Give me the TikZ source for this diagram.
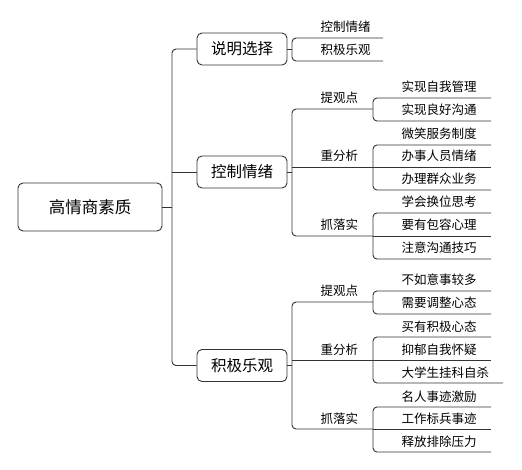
\documentclass[tikz,border=0pt]{standalone}
\usepackage{fontspec}
\setmainfont{Noto Sans CJK SC}
\definecolor{lc}{HTML}{333333}
\newcommand\mmleaf[5]{%
  \coordinate (#1s) at (#2,#3);
  \coordinate (#1e) at (#2+#4,#3);
  \node[lbl, anchor=base west] (#1) at (#2+28.5,#3-6) {#5};
}
\begin{document}
\begin{tikzpicture}[x=1pt,y=-1pt,
  box/.style={draw=lc, line width=0.9pt, rounded corners=5pt, inner sep=0pt},
  rootbox/.style={box, minimum width=144pt, minimum height=48pt, font=\fontsize{16.5}{18}\selectfont},
  brbox/.style={box, minimum width=90pt, minimum height=32pt, font=\fontsize{15.5}{17}\selectfont},
  lbl/.style={inner sep=0pt, font=\fontsize{12.5}{14}\selectfont},
  link/.style={draw=lc, line width=0.9pt, rounded corners=4pt}]
\useasboundingbox (0,0) rectangle (522,470);

% root and branches
\node[rootbox] (r) at (90,207) {高情商素质};
\coordinate (t) at (172,207);
\node[brbox] (b1) at (242,49) {说明选择};
\node[brbox] (b2) at (242,172) {控制情绪};
\node[brbox] (b3) at (242,365.5) {积极乐观};

\draw[link] (r.east) -- (t);
\draw[link] (b1.west) -- (b1.west -| t) -- (b3.west -| t) -- (b3.west);
\draw[link] (b2.west) -- (b2.west -| t);

% branch 1
\mmleaf{k1}{292}{38}{91}{控制情绪}
\mmleaf{k2}{292}{61}{91}{积极乐观}
\draw[link] (b1.east) -- (b1.east -| k1s);
\draw[link] (k1e) -- (k1s) -- (k2s) -- (k2e);

% branch 2
\mmleaf{p21}{292}{109}{81}{提观点}
\mmleaf{p22}{292}{167}{81}{重分析}
\mmleaf{p23}{292}{236}{81}{抓落实}
\draw[link] (b2.east) -- (b2.east -| p21s);
\draw[link] (p21e) -- (p21s) -- (p23s) -- (p23e);

\mmleaf{l211}{373}{98}{118}{实现自我管理}
\mmleaf{l212}{373}{121}{118}{实现良好沟通}
\draw[link] (l211e) -- (l211s) -- (l212s) -- (l212e);

\mmleaf{l221}{373}{145}{118}{微笑服务制度}
\mmleaf{l222}{373}{167}{118}{办事人员情绪}
\mmleaf{l223}{373}{190}{118}{办理群众业务}
\draw[link] (l221e) -- (l221s) -- (l223s) -- (l223e);
\draw[link] (p22s) -- (l222e);

\mmleaf{l231}{373}{213}{118}{学会换位思考}
\mmleaf{l232}{373}{236}{118}{要有包容心理}
\mmleaf{l233}{373}{259}{118}{注意沟通技巧}
\draw[link] (l231e) -- (l231s) -- (l233s) -- (l233e);
\draw[link] (p23e) -- (l232e);

% branch 3
\mmleaf{p31}{292}{302}{81}{提观点}
\mmleaf{p32}{292}{360}{81}{重分析}
\mmleaf{p33}{292}{429}{81}{抓落实}
\draw[link] (b3.east) -- (b3.east -| p31s);
\draw[link] (p31e) -- (p31s) -- (p33s) -- (p33e);

\mmleaf{l311}{373}{291}{118}{不如意事较多}
\mmleaf{l312}{373}{314}{118}{需要调整心态}
\draw[link] (l311e) -- (l311s) -- (l312s) -- (l312e);

\mmleaf{l321}{373}{337}{118}{买有积极心态}
\mmleaf{l322}{373}{360}{118}{抑郁自我怀疑}
\mmleaf{l323}{373}{383}{130}{大学生挂科自杀}
\draw[link] (l321e) -- (l321s) -- (l323s) -- (l323e);
\draw[link] (p32s) -- (l322e);

\mmleaf{l331}{373}{407}{118}{名人事迹激励}
\mmleaf{l332}{373}{429}{118}{工作标兵事迹}
\mmleaf{l333}{373}{452}{118}{释放排除压力}
\draw[link] (l331e) -- (l331s) -- (l333s) -- (l333e);
\draw[link] (p33e) -- (l332e);
\end{tikzpicture}
\end{document}
